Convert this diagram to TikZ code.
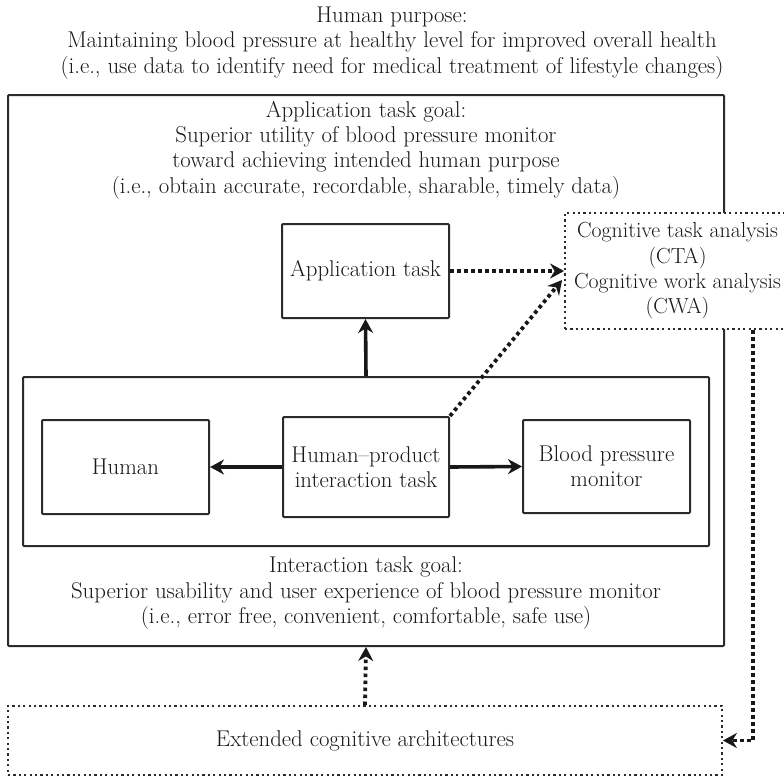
\documentclass[tikz,border=0pt]{standalone}
\usepackage{tikz}
\usepackage{xcolor}
\usetikzlibrary{arrows.meta}
\definecolor{ink}{HTML}{1A1718}
\definecolor{inkline}{HTML}{2B2B2B}

\begin{document}
\begin{tikzpicture}[x=1pt, y=-1pt,
        every node/.style={text=ink, font=\fontsize{22.8}{25.3}\selectfont},
        box/.style={rectangle, draw=inkline, line width=2pt, fill=white,
                    rounded corners=1pt, align=center, inner sep=0pt},
        dotbox/.style={rectangle, draw=inkline, line width=1.8pt, fill=white,
                    dash pattern=on 2.2pt off 3.2pt, align=center, inner sep=0pt},
        goal/.style={align=center, inner sep=0pt},
        arr/.style={draw=ink, line width=3.6pt, -{Stealth[length=14pt, width=15pt]}},
        dotarr/.style={draw=ink, line width=3.8pt, dash pattern=on 3.6pt off 3.4pt,
                    -{Stealth[length=14pt, width=15pt]}}
      ]
        \useasboundingbox (0,0) rectangle (784,777);
        \clip (0,0) rectangle (784,777);
        \node[goal] (purpose) at (392,43) {Human purpose:\\
          Maintaining blood pressure at healthy level for improved overall health\\
          (i.e., use data to identify need for medical treatment of lifestyle changes)};
        \node[box, minimum width=716pt, minimum height=551pt] (outer) at (366,370.5) {};
        \node[goal] (appgoal) at (366,150) {Application task goal:\\
          Superior utility of blood pressure monitor\\
          toward achieving intended human purpose\\
          (i.e., obtain accurate, recordable, sharable, timely data)};
        \node[box, minimum width=686pt, minimum height=169pt] (inner) at (366,461.5) {};
        \node[goal] (intgoal) at (366,593) {Interaction task goal:\\
          Superior usability and user experience of blood pressure monitor\\
          (i.e., error free, convenient, comfortable, safe use)};
        \node[box, minimum width=167pt, minimum height=94pt] (app) at (365.5,271) {Application task};
        \node[box, minimum width=166pt, minimum height=100pt] (hp) at (366,467) {Human--product\\interaction task};
        \node[box, minimum width=167pt, minimum height=94pt] (human) at (125.5,467) {Human};
        \node[box, minimum width=167pt, minimum height=93pt] (bp) at (606.5,466.5) {Blood pressure\\monitor};
        \node[dotbox, minimum width=225pt, minimum height=116pt,
              font=\fontsize{21.8}{25.3}\selectfont] (cta) at (677.5,271) {Cognitive task analysis\\(CTA)\\Cognitive work analysis\\(CWA)};
        \node[dotbox, minimum width=714pt, minimum height=69pt] (ext) at (365,740.5) {Extended cognitive architectures};

        \draw[arr] (inner.north) -- (app.south);
        \draw[arr] (hp.west) -- (human.east);
        \draw[arr] (hp.east) -- (bp.west);
        \draw[dotarr] (app.east) -- (cta.west);
        \draw[dotarr] (hp.north east) -- ([xshift=-2pt, yshift=-9pt]cta.west);
        \draw[dotarr] ([xshift=75.5pt]cta.south) |- (ext.east);
        \draw[dotarr] (ext.north) -- (outer.south);
      \end{tikzpicture}
\end{document}
